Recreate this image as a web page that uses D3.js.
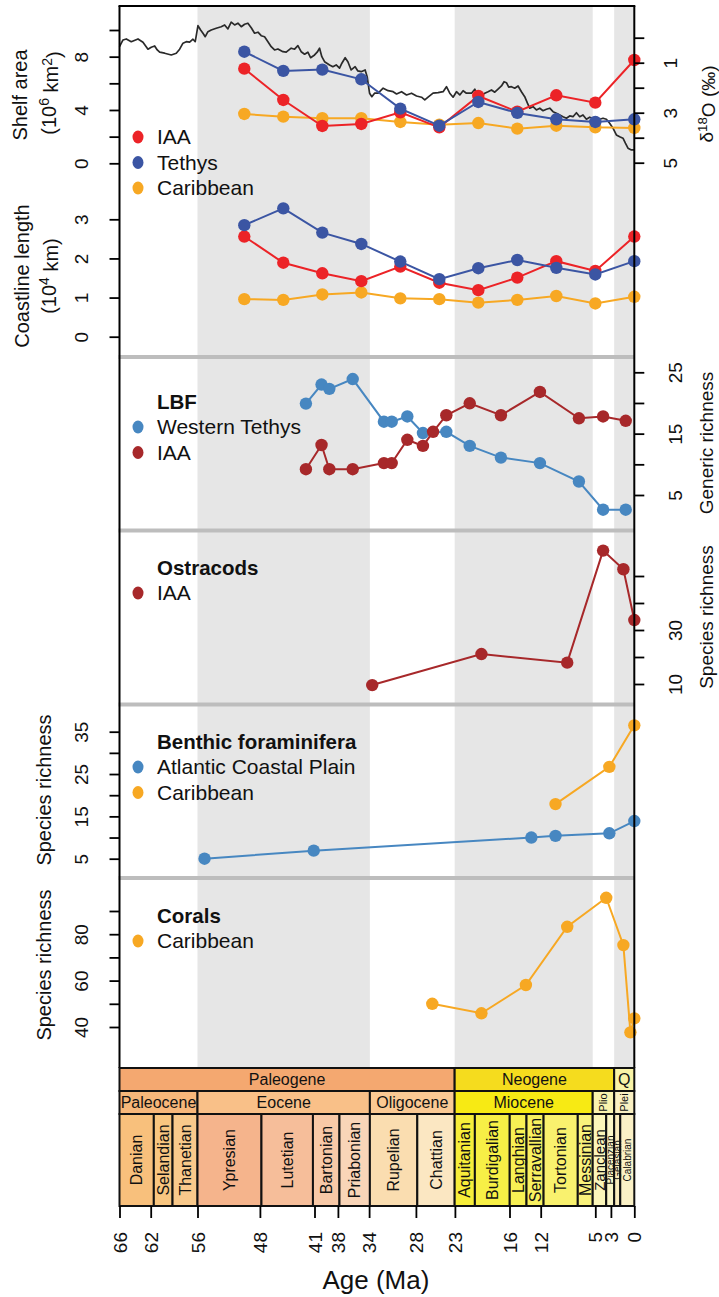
<!DOCTYPE html>
<html><head><meta charset="utf-8">
<script src="https://cdn.jsdelivr.net/npm/d3@7"></script>
<style>
body{margin:0;background:#fff}
svg text{font-family:"Liberation Sans",Arial,Helvetica,sans-serif;fill:#111}
</style>
</head><body><div id="chart"></div>
<script>
// ---------------- DATA ----------------
const sampleAges = [50,45,40,35,30,25,20,15,10,5,0];
const shelfIAA = [7.1,4.75,2.8,2.95,3.83,2.7,5.05,3.87,5.1,4.55,7.75];
const shelfTethys = [8.37,6.93,7.03,6.3,4.1,2.82,4.6,3.78,3.3,3.1,3.3];
const shelfCaribbean = [3.7,3.5,3.38,3.38,3.1,2.9,3.02,2.6,2.82,2.7,2.65];
const coastIAA = [2.56,1.89,1.62,1.42,1.79,1.38,1.19,1.51,1.93,1.68,2.56];
const coastTethys = [2.85,3.28,2.66,2.37,1.92,1.47,1.75,1.96,1.76,1.59,1.93];
const coastCaribbean = [0.96,0.94,1.08,1.13,0.98,0.96,0.87,0.94,1.04,0.85,1.02];

const d18OAge = [66.0,65.55,65.13,64.49,63.63,62.99,62.35,61.93,61.49,61.16,60.85,60.21,59.36,58.72,58.29,57.86,57.44,57.01,56.58,56.29,55.94,55.6,55.3,55.01,54.66,54.24,53.6,52.96,52.52,52.1,51.68,51.24,50.82,50.39,49.96,49.54,49.11,48.68,48.25,47.83,47.4,46.97,46.55,46.12,45.69,45.05,44.63,43.99,43.55,43.13,42.71,42.27,41.85,41.5,40.99,40.66,40.35,40.06,39.71,39.07,38.65,38.22,37.79,37.49,37.07,36.72,36.3,35.79,35.44,35.02,34.51,34.25,33.94,33.65,33.3,32.84,32.2,31.56,30.92,30.48,29.84,29.2,28.56,27.92,27.28,26.86,26.44,25.8,25.15,24.51,24.08,23.66,23.23,22.8,22.37,21.95,21.52,20.87,20.45,20.03,19.59,19.17,18.75,18.31,17.89,17.47,17.03,16.7,16.39,16.1,15.75,15.33,14.9,14.47,14.05,13.7,13.41,12.98,12.55,12.12,11.7,11.27,10.84,10.42,9.98,9.56,9.14,8.7,8.28,7.86,7.42,7.0,6.58,6.14,5.72,5.3,4.86,4.44,4.01,3.58,3.16,2.73,2.3,1.87,1.45,1.14,0.81,0.37,0.0];
const d18OVal = [0.36,0.09,0.05,0.16,0.05,0.18,0.46,0.38,0.33,0.49,0.58,0.62,0.69,0.62,0.46,0.22,0.16,0.18,0.06,0.16,-0.48,-0.31,-0.18,-0.04,-0.24,-0.31,-0.38,-0.44,-0.51,-0.35,-0.62,-0.51,-0.58,-0.44,-0.54,-0.58,-0.4,-0.18,-0.22,-0.08,-0.04,0.16,0.36,0.49,0.45,0.56,0.58,0.42,0.46,0.32,0.56,0.66,0.58,0.8,0.69,0.58,0.42,0.76,0.96,1.09,1.16,1.09,1.22,1.02,0.8,0.96,1.29,1.16,1.33,1.36,1.29,1.56,2.22,2.36,2.22,2.22,2.02,2.12,2.16,2.25,2.16,2.29,2.22,2.33,2.38,2.49,2.38,2.22,2.2,2.16,1.96,2.22,2.38,2.16,2.29,2.12,2.22,2.22,2.06,2.36,2.29,2.22,2.16,2.09,2.18,2.06,1.93,1.76,1.8,1.98,1.96,2.02,1.93,2.16,2.36,2.62,2.82,2.76,2.89,2.82,2.92,2.86,2.82,2.96,3.02,3.09,3.16,3.22,3.13,3.16,3.0,3.16,3.09,3.26,3.18,3.22,3.18,3.26,3.22,3.26,3.42,3.62,3.89,3.96,4.02,4.22,4.42,4.49,4.49];

const lbfTethysAges = [42.1,40.1,39.1,36.1,32.1,31.1,29.1,27.1,24.1,21.1,17.1,12.1,7.1,4.0,1.1];
const lbfTethys = [19.9,23.0,22.3,23.9,16.95,16.95,17.8,15.1,15.3,13.0,11.1,10.2,7.2,2.6,2.6];
const lbfIAAAges = [42.1,40.1,39.1,36.1,32.1,31.1,29.1,27.1,25.8,24.1,21.1,17.1,12.1,7.1,4.0,1.1];
const lbfIAA = [9.2,13.15,9.2,9.2,10.2,10.2,14.0,13.0,15.3,18.0,19.95,18.0,21.8,17.5,17.8,17.1];

const ostAges = [33.6,19.6,8.6,4.0,1.4,0];
const ostIAA = [9.6,21.1,17.9,59.4,52.5,33.7];

const bfACPAges = [55.1,41.1,13.2,10.1,3.2,0];
const bfACP = [5.0,6.9,10.0,10.4,11.0,13.9];
const bfCarAges = [10.1,3.2,0];
const bfCar = [17.9,26.7,36.5];

const coralAges = [25.9,19.6,13.9,8.6,3.6,1.4,0.5,0];
const coralCar = [50.0,45.9,58.1,83.2,95.7,75.3,37.7,43.7];

const ageTicks = [66,62,56,48,41,38,34,28,23,16,12,5,3,0];
const shadeStart = [56,23.03,2.58];
const shadeEnd = [33.9,5.333,0];

const periodNames = ["Paleogene","Neogene","Q"];
const periodBounds = [66,23.03,2.58,0];
const periodColors = ["#F4A870","#F5DC1E","#F9F3A6"];
const epochNames = ["Paleocene","Eocene","Oligocene","Miocene","Plio","Plei"];
const epochBounds = [66,56,33.9,23.03,5.333,2.58,0];
const epochColors = ["#F7B77A","#F9C088","#FAC993","#F7EA14","#FAF3AE","#FAF0C2"];
const stageNames = ["Danian","Selandian","Thanetian","Ypresian","Lutetian","Bartonian","Priabonian","Rupelian","Chattian","Aquitanian","Burdigalian","Langhian","Serravallian","Tortonian","Messinian","Zanclean","Piacenzian","Gelasian","Calabrian"];
const stageBounds = [66,61.6,59.2,56,47.8,41.2,37.8,33.9,27.82,23.03,20.44,15.97,13.82,11.63,7.246,5.333,3.6,2.58,1.8,0];
const stageColors = ["#F8C07C","#F9C680","#F9C98B","#F5B48C","#F6BE9A","#F8C9A7","#F9D5B8","#FADDB0","#FBE7C2","#F7EE3A","#F7EF46","#F8F054","#F8F060","#F9F16E","#F9F27C","#FBF6BA","#FBF6C6","#FBEDBE","#FBF1C6"];

// ---------------- LAYOUT ----------------
const W = 719, H = 1297;
const X0 = 119.5, X1 = 634.3;
const TOP = 6, FRAME_BOT = 1068;
const FONT = "'Liberation Sans',Arial,Helvetica,sans-serif";

const svg = d3.select("#chart").append("svg").attr("width", W).attr("height", H);
svg.append("rect").attr("width", W).attr("height", H).attr("fill", "#fff");

const x = d3.scaleLinear().domain([66, 0]).range([X0, X1]);

const yShelf = d3.scaleLinear().domain([0, 10]).range([163.3, 30.0]);
const yD18O = d3.scaleLinear().domain([0, 5]).range([37.7, 162.7]);
const yCoast = d3.scaleLinear().domain([0, 3]).range([336.7, 219.3]);
const yLBF = d3.scaleLinear().domain([5, 25]).range([495.0, 372.3]);
const yOst = d3.scaleLinear().domain([10, 50]).range([684, 576]);
const yBF = d3.scaleLinear().domain([5, 35]).range([858.7, 731.7]);
const yCor = d3.scaleLinear().domain([40, 90]).range([1027, 911]);

const C = {
  red: "#EC2327", blue: "#3B55A3", orange: "#F7A823",
  steel: "#4787C1", brick: "#A7282A"
};

// shading
shadeStart.forEach((s, i) => {
  svg.append("rect").attr("x", x(s)).attr("y", TOP).attr("width", x(shadeEnd[i]) - x(s))
    .attr("height", FRAME_BOT - TOP).attr("fill", "#E6E6E6");
});

// d18O line
const d18O = d18OAge.map((a, i) => [a, d18OVal[i]]);
svg.append("path").datum(d18O)
  .attr("d", d3.line().x(d => x(d[0])).y(d => yD18O(d[1])))
  .attr("fill", "none").attr("stroke", "#2a2a2a").attr("stroke-width", 1.7).attr("stroke-linejoin", "round");

function series(ages, vals, yS, color, r = 6.2) {
  const pts = ages.map((a, i) => [a, vals[i]]);
  svg.append("path").datum(pts)
    .attr("d", d3.line().x(d => x(d[0])).y(d => yS(d[1])))
    .attr("fill", "none").attr("stroke", color).attr("stroke-width", 2);
  svg.append("g").selectAll("circle").data(pts).join("circle")
    .attr("cx", d => x(d[0])).attr("cy", d => yS(d[1])).attr("r", r).attr("fill", color);
}

series(sampleAges, shelfCaribbean, yShelf, C.orange);
series(sampleAges, shelfIAA, yShelf, C.red);
series(sampleAges, shelfTethys, yShelf, C.blue);
series(sampleAges, coastCaribbean, yCoast, C.orange);
series(sampleAges, coastIAA, yCoast, C.red);
series(sampleAges, coastTethys, yCoast, C.blue);
series(lbfTethysAges, lbfTethys, yLBF, C.steel);
series(lbfIAAAges, lbfIAA, yLBF, C.brick);
series(ostAges, ostIAA, yOst, C.brick);
series(bfACPAges, bfACP, yBF, C.steel);
series(bfCarAges, bfCar, yBF, C.orange);
series(coralAges, coralCar, yCor, C.orange);

// separators
[357, 530.5, 704.5, 878].forEach(yy => {
  svg.append("line").attr("x1", X0 - 1).attr("x2", X1).attr("y1", yy).attr("y2", yy)
    .attr("stroke", "#BDBDBD").attr("stroke-width", 4);
});

// frame
const frame = svg.append("g").attr("stroke", "#000").attr("stroke-width", 2).attr("fill", "none");
frame.append("line").attr("x1", X0).attr("x2", X0).attr("y1", TOP).attr("y2", FRAME_BOT);
frame.append("line").attr("x1", X1).attr("x2", X1).attr("y1", TOP).attr("y2", FRAME_BOT);
frame.append("line").attr("x1", X0 - 1).attr("x2", X1 + 1).attr("y1", TOP).attr("y2", TOP);

// text helper
function txt(parent, px, py, str, size, opt = {}) {
  const t = parent.append("text")
    .attr("transform", `translate(${px},${py})` + (opt.rot ? ` rotate(${opt.rot})` : ""))
    .attr("text-anchor", opt.anchor || "middle")
    .attr("dy", opt.dy || "0.35em")
    .style("font-size", size + "px")
    .style("font-weight", opt.bold ? "bold" : "normal");
  if (Array.isArray(str)) {
    str.forEach(p => {
      const ts = t.append("tspan").text(p[0]);
      if (p[1] === "sup") ts.attr("dy", "-0.45em").style("font-size", (size * 0.7) + "px");
      if (p[1] === "down") ts.attr("dy", "0.45em");
    });
  } else t.text(str);
  return t;
}

// axes
function vAxis(side, scale, ticks, labels, labelX) {
  const g = svg.append("g").attr("transform", `translate(${side === "left" ? X0 : X1},0)`);
  const ax = (side === "left" ? d3.axisLeft(scale) : d3.axisRight(scale))
    .tickValues(ticks).tickSize(10)
    .tickFormat(d => labels.indexOf(d) >= 0 ? String(d) : "");
  g.call(ax);
  g.attr("font-size", null).attr("font-family", null);
  g.select(".domain").remove();
  g.selectAll(".tick line").attr("stroke", "#000").attr("stroke-width", 1.8);
  const off = labelX - (side === "left" ? X0 : X1);
  g.selectAll(".tick text").attr("x", 0).attr("y", 0).attr("dy", "0.35em")
    .attr("fill", "#111")
    .attr("transform", `translate(${off},0) rotate(-90)`)
    .attr("text-anchor", "middle").style("font-size", "19px").style("font-family", FONT);
}

vAxis("left", yShelf, [0,2,4,6,8,10], [0,4,8], 81);
vAxis("right", yD18O, [0,1,2,3,4,5], [1,3,5], 670);
vAxis("left", yCoast, [0,1,2,3], [0,1,2,3], 81);
vAxis("right", yLBF, [5,10,15,20,25], [5,15,25], 675);
vAxis("right", yOst, [10,20,30,40,50], [10,30], 675);
vAxis("left", yBF, [5,10,15,20,25,30,35], [5,15,25,35], 81);
vAxis("left", yCor, [40,50,60,70,80,90], [40,60,80], 81);

// axis titles
txt(svg, 20, 95, "Shelf area", 20, {rot: -90});
txt(svg, 48.5, 93, [["(10"], ["6", "sup"], [" km", "down"], ["2", "sup"], [")", "down"]], 20, {rot: -90});
txt(svg, 22, 276, "Coastline length", 20, {rot: -90});
txt(svg, 48.5, 276, [["(10"], ["4", "sup"], [" km)", "down"]], 20, {rot: -90});
txt(svg, 706, 104, [["δ"], ["18", "sup"], ["O (‰)", "down"]], 19, {rot: -90});
txt(svg, 706, 443, "Generic richness", 19, {rot: -90});
txt(svg, 706, 617, "Species richness", 19, {rot: -90});
txt(svg, 44, 790, "Species richness", 20, {rot: -90});
txt(svg, 44, 965, "Species richness", 20, {rot: -90});

// legends
function legend(items, title, y0) {
  const g = svg.append("g");
  let yy = y0;
  if (title) { txt(g, 157, yy, title, 20.5, {anchor: "start", bold: true}); yy += 25; }
  items.forEach(it => {
    g.append("ellipse").attr("cx", 138).attr("cy", yy).attr("rx", 5.5).attr("ry", 6.5).attr("fill", it[1]);
    txt(g, 157, yy, it[0], 21, {anchor: "start"});
    yy += 25.5;
  });
}
legend([["IAA", C.red], ["Tethys", C.blue], ["Caribbean", C.orange]], null, 137);
legend([["Western Tethys", C.steel], ["IAA", C.brick]], "LBF", 402);
legend([["IAA", C.brick]], "Ostracods", 568);
legend([["Atlantic Coastal Plain", C.steel], ["Caribbean", C.orange]], "Benthic foraminifera", 742);
legend([["Caribbean", C.orange]], "Corals", 916);

// ---------------- TIMESCALE ----------------
const ts = svg.append("g");
const rowY = [1068, 1091, 1114, 1206];
function tsRow(names, bounds, colors, r, sizeFn, rotFn) {
  names.forEach((n, i) => {
    const xa = x(bounds[i]), xb = x(bounds[i + 1]);
    ts.append("rect").attr("x", xa).attr("y", rowY[r]).attr("width", xb - xa)
      .attr("height", rowY[r + 1] - rowY[r]).attr("fill", colors[i])
      .attr("stroke", "#111").attr("stroke-width", 2);
  });
  names.forEach((n, i) => {
    const xa = x(bounds[i]), xb = x(bounds[i + 1]);
    const rot = rotFn(n);
    txt(ts, (xa + xb) / 2, (rowY[r] + rowY[r + 1]) / 2, n, sizeFn(n), rot ? {rot: -90} : {});
  });
}
tsRow(periodNames, periodBounds, periodColors, 0, n => 16, n => false);
tsRow(epochNames, epochBounds, epochColors, 1, n => (n === "Plio" || n === "Plei") ? 11 : 16, n => n === "Plio" || n === "Plei");
tsRow(stageNames, stageBounds, stageColors, 2,
  n => (n === "Piacenzian" || n === "Gelasian" || n === "Calabrian") ? 10 : (n === "Zanclean" ? 15 : 16),
  n => true);

// bottom axis
const gb = svg.append("g").attr("transform", `translate(0,1206)`);
gb.call(d3.axisBottom(x).tickValues(ageTicks).tickSize(12).tickFormat(d => String(d)));
gb.attr("font-size", null).attr("font-family", null);
gb.select(".domain").remove();
gb.selectAll(".tick line").attr("stroke", "#000").attr("stroke-width", 1.8);
gb.selectAll(".tick text").attr("x", 0).attr("y", 0).attr("dy", "0.35em").attr("fill", "#111")
  .attr("transform", "translate(0,26) rotate(-90)").attr("text-anchor", "end")
  .style("font-size", "19px").style("font-family", FONT);

txt(svg, (X0 + X1) / 2 - 1, 1280, "Age (Ma)", 26, {});
</script></body></html>
